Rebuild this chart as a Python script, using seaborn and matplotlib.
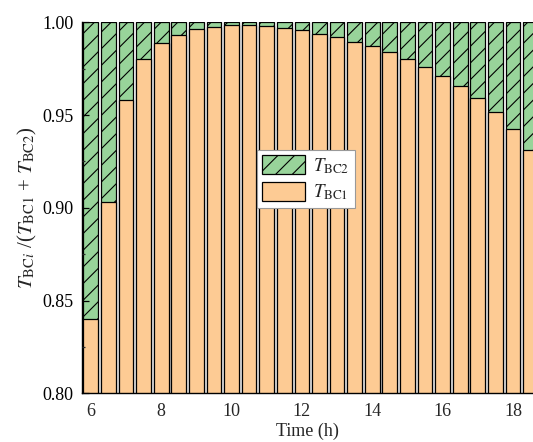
import numpy as np
import pandas as pd
import matplotlib
matplotlib.use("Agg")
import matplotlib.pyplot as plt
import seaborn as sns
from matplotlib.ticker import MultipleLocator, FormatStrFormatter
from matplotlib.patches import Patch

# ---- data ----
time_h = [6.0, 6.5, 7.0, 7.5, 8.0, 8.5, 9.0, 9.5, 10.0, 10.5, 11.0, 11.5, 12.0,
          12.5, 13.0, 13.5, 14.0, 14.5, 15.0, 15.5, 16.0, 16.5, 17.0, 17.5, 18.0, 18.5]
share_bc1 = [0.840, 0.903, 0.958, 0.980, 0.9886, 0.9933, 0.9962, 0.9974, 0.9984, 0.9985,
             0.9980, 0.9970, 0.9958, 0.9938, 0.9919, 0.9895, 0.9871, 0.9838, 0.9800,
             0.9759, 0.9710, 0.9655, 0.9590, 0.9514, 0.9423, 0.9310]
share_total = [1.0] * len(time_h)
labels = [r"$T_{\mathrm{BC2}}$", r"$T_{\mathrm{BC1}}$"]
x_ticks = [6, 8, 10, 12, 14, 16, 18]

df = pd.DataFrame({"time": time_h, "bc1": share_bc1, "total": share_total})

sns.set_theme(style="ticks")
plt.rcParams["font.family"] = ["Liberation Serif", "DejaVu Serif"]
plt.rcParams["mathtext.fontset"] = "stix"
plt.rcParams["hatch.linewidth"] = 0.8

col_bc1 = "#FDCB94"
col_bc2 = "#98D49A"

fig = plt.figure(figsize=(5.33, 4.42), dpi=100)
ax = fig.add_axes([0.1533, 0.1102, 0.8467, 0.8393])

sns.barplot(data=df, x="time", y="total", native_scale=True, width=0.84,
            color=col_bc2, edgecolor="black", linewidth=0.9, saturation=1,
            errorbar=None, ax=ax)
for p in ax.patches:
    p.set_hatch("//")
sns.barplot(data=df, x="time", y="bc1", native_scale=True, width=0.84,
            color=col_bc1, edgecolor="black", linewidth=0.9, saturation=1,
            errorbar=None, ax=ax)

ax.set_axisbelow(False)
ax.yaxis.set_zorder(10)
ax.set_xlim(5.744, 18.566)
ax.set_ylim(0.80, 1.00)
ax.set_xticks(x_ticks)
ax.set_xticklabels([str(t) for t in x_ticks])
ax.yaxis.set_major_locator(MultipleLocator(0.05))
ax.yaxis.set_minor_locator(MultipleLocator(0.025))
ax.yaxis.set_major_formatter(FormatStrFormatter("%.2f"))
ax.tick_params(axis="y", which="major", direction="in", length=5, width=0.9,
               labelsize=13, pad=6, colors="black")
ax.tick_params(axis="y", which="minor", direction="in", length=2.5, width=0.9)
ax.tick_params(axis="x", length=0, labelsize=13, pad=7)

for s in ["top", "right"]:
    ax.spines[s].set_visible(False)
for s in ["left", "bottom"]:
    ax.spines[s].set_linewidth(1.0)
    ax.spines[s].set_color("black")
    ax.spines[s].set_zorder(10)

ax.set_xlabel("Time (h)", fontsize=13, labelpad=2)
ax.set_ylabel(r"$T_{\mathrm{BC}i}$ /($T_{\mathrm{BC1}}$ + $T_{\mathrm{BC2}}$)",
              fontsize=15, labelpad=2)

handles = [Patch(facecolor=col_bc2, edgecolor="black", hatch="//", linewidth=0.9),
           Patch(facecolor=col_bc1, edgecolor="black", linewidth=0.9)]
leg = ax.legend(handles, labels, loc="upper left", bbox_to_anchor=(0.375, 0.672),
                fontsize=13.5, handlelength=2.3, handleheight=1.2, labelspacing=0.3,
                handletextpad=0.4, borderpad=0.3, borderaxespad=0.3, fancybox=False,
                framealpha=1, edgecolor="#999999")
leg.get_frame().set_linewidth(0.8)
leg.set_zorder(20)

fig.savefig("out.png", dpi=100)
